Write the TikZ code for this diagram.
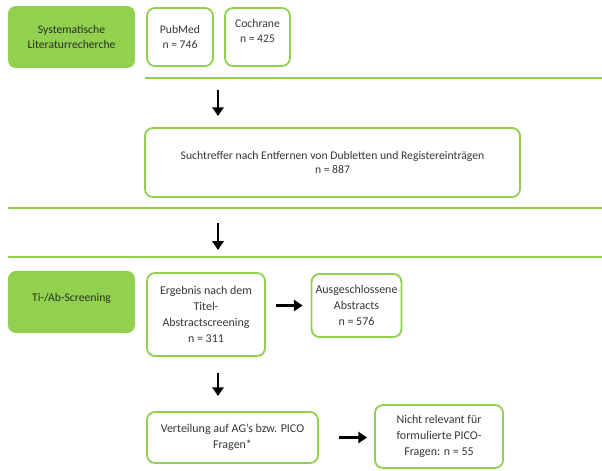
\documentclass[tikz,border=0pt]{standalone}
\usepackage{fontspec}
\setmainfont{Carlito}
\usetikzlibrary{positioning, arrows.meta}
\definecolor{scGreen}{RGB}{146, 208, 80}
\definecolor{scText}{RGB}{55, 55, 55}
\definecolor{scDark}{RGB}{40, 48, 30}
\tikzset{
    base/.style={
        font=\fontsize{8.3}{10.5}\selectfont,
        align=center,
        text=scText
    },
    stage/.style={
        base,
        rectangle,
        rounded corners=2mm,
        fill=scGreen,
        text=scDark,
        minimum width=3.175cm,
        minimum height=1.55cm
    },
    record/.style={
        base,
        rectangle,
        rounded corners=2mm,
        draw=scGreen,
        line width=1.3pt,
        fill=white,
        inner sep=1mm
    },
    wide/.style={
        font=\fontsize{8.5}{11.5}\selectfont
    },
    flow/.style={
        -{Triangle[length=2.2mm, width=2.8mm]},
        line width=1.7pt,
        color=black
    },
    divider/.style={
        draw=scGreen,
        line width=1.4pt
    }
}

\begin{document}
\begin{tikzpicture}[x=0.025cm, y=-0.025cm]
    \useasboundingbox (0,0) rectangle (602,471);

    % Systematische Literaturrecherche
    \node[stage] (lit) at (71.5,37) {Systematische\\Literaturrecherche};
    \node[record, minimum width=1.65cm, minimum height=1.45cm] (pubmed) at (180,37) {PubMed\\n = 746};
    \node[record, minimum width=1.625cm, minimum height=1.45cm] (cochrane) at (257.5,37) {Cochrane\\n = 425\\[-2pt]};

    \coordinate (l1a) at (145,78);
    \coordinate (l1b) at (602,78);
    \draw[divider] (l1a) -- (l1b);

    \coordinate (a1s) at (218,90);
    \node[record, minimum width=9.375cm, minimum height=1.725cm] (such) at (332.5,162.5)
        {Suchtreffer nach Entfernen von Dubletten und Registereinträgen\\n = 887};
    \draw[flow, shorten >=0.275cm] (a1s) -- (such.north -| a1s);

    % Trennlinien
    \coordinate (l2a) at (8,208);
    \coordinate (l2b) at (602,208);
    \coordinate (l3a) at (8,257);
    \coordinate (l3b) at (602,257);
    \draw[divider] (l2a) -- (l2b);
    \draw[divider] (l3a) -- (l3b);

    \coordinate (a2s) at (218,223);
    \coordinate (a2e) at (218,250);
    \draw[flow] (a2s) -- (a2e);

    % Ti-/Ab-Screening
    \node[stage] (ti) at (71.5,302) {Ti-/Ab-Screening\\[-4pt]};
    \node[record, wide, minimum width=2.95cm, minimum height=2.075cm] (erg) at (206,314.5)
        {Ergebnis nach dem\\Titel-\\Abstractscreening\\n = 311};
    \node[record, wide, minimum width=2.175cm, minimum height=1.575cm] (aus) at (356.5,305.5)
        {Ausgeschlossene\\Abstracts\\n = 576};
    \node[record, wide, minimum width=4.275cm, minimum height=1.275cm] (vert) at (232.5,437.5)
        {Verteilung auf AG’s bzw. PICO\\Fragen*};
    \node[record, wide, minimum width=3.2cm, minimum height=1.575cm] (nicht) at (439,436.5)
        {Nicht relevant für\\formulierte PICO-\\Fragen: n = 55};

    \draw[flow, shorten <=0.25cm, shorten >=0.2cm] (erg.east |- aus.west) -- (aus.west);
    \draw[flow, shorten <=0.4cm, shorten >=0.375cm] (erg.south -| a1s) -- (vert.north -| a1s);
    \draw[flow, shorten <=0.5cm, shorten >=0.175cm] (vert.east) -- (vert.east -| nicht.west);

\end{tikzpicture}
\end{document}
